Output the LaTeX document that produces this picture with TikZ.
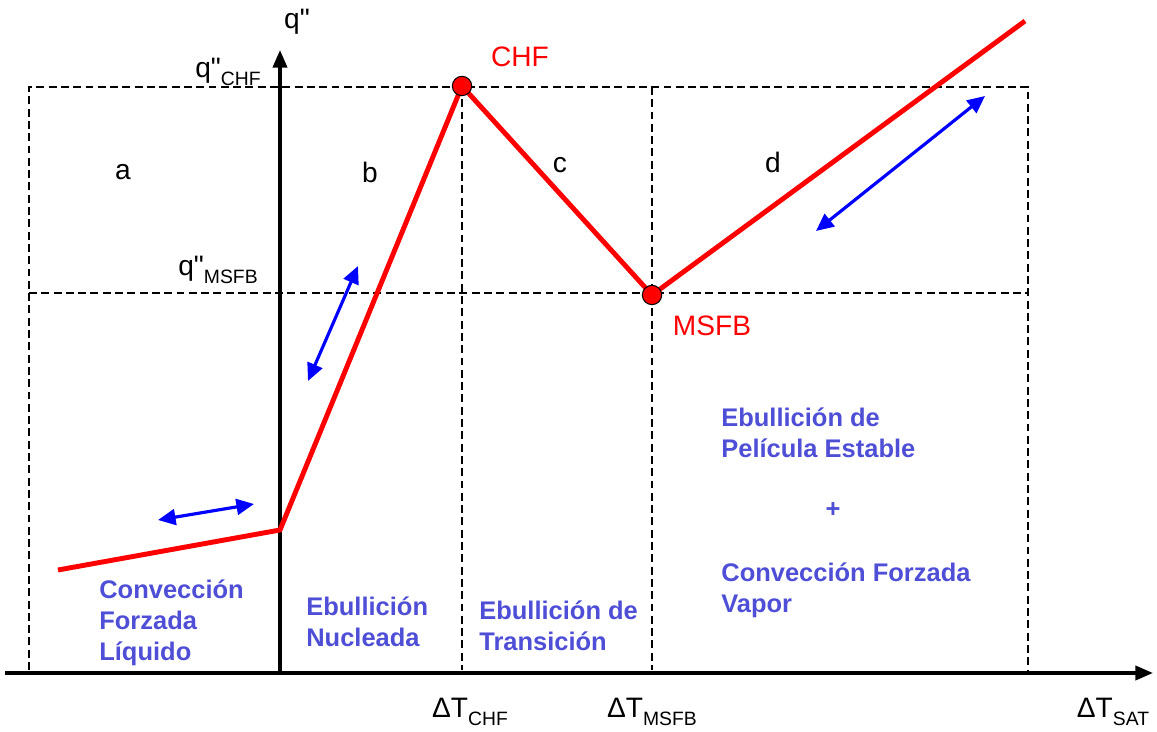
\documentclass[tikz,border=0pt]{standalone}
\usepackage{fontspec}
\setmainfont{Liberation Sans}[Ligatures=TeXOff]
\usetikzlibrary{arrows.meta}
\definecolor{regblue}{RGB}{78,78,214}
\newcommand{\dn}[1]{\raisebox{-0.55ex}{\fontsize{11}{11}\selectfont #1}}

\begin{document}
\begin{tikzpicture}[x=0.02cm,y=-0.02cm,
    grid/.style={dash pattern=on 4.5pt off 2.5pt, line width=1.4pt},
    axis/.style={line width=2pt, -{Triangle[length=10pt,width=8pt]}},
    curve/.style={red, line width=2.8pt},
    swing/.style={blue, line width=1.8pt, {Triangle[length=10pt,width=9pt]}-{Triangle[length=10pt,width=9pt]}},
    pt/.style={circle, draw=black, fill=red, inner sep=0pt, minimum size=11pt, line width=0.6pt},
    lbl/.style={font=\fontsize{16}{18}\selectfont},
    region/.style={text=regblue, font=\bfseries\fontsize{14.5}{17.6}\selectfont, align=left, anchor=west, inner sep=0pt}]
    \useasboundingbox (0,0) rectangle (1157,732);

    % grid
    \coordinate (tl) at (29,87);   \coordinate (tr) at (1028,87);
    \coordinate (ml) at (29,293);  \coordinate (mr) at (1028,293);
    \coordinate (bl) at (29,670);  \coordinate (br) at (1028,670);
    \coordinate (tc) at (462,87);  \coordinate (bc) at (462,670);
    \coordinate (tm) at (652,87);  \coordinate (bm) at (652,670);
    \draw [grid] (bl) -- (tl) -- (tr) -- (br);
    \draw [grid] (ml) -- (mr);
    \draw [grid] (tc) -- (bc);
    \draw [grid] (tm) -- (bm);

    % axes
    \coordinate (xs) at (5,673);
    \coordinate (xe) at (1153,673);
    \coordinate (O)  at (280,673);
    \coordinate (ye) at (280,50);
    \draw [axis] (xs) -- (xe);
    \draw [axis] (O) -- (ye);

    % boiling curve
    \coordinate (c0)  at (58,570);
    \coordinate (c1)  at (280,530);
    \coordinate (chf) at (462,86);
    \coordinate (msf) at (652,295);
    \coordinate (c4)  at (1025,21);
    \draw [curve] (c0) -- (c1) -- (chf) -- (msf) -- (c4);
    \node [pt] (CHFpt)  at (chf) {};
    \node [pt] (MSFBpt) at (msf) {};

    % swings
    \coordinate (s1a) at (158,520); \coordinate (s1b) at (254,504);
    \coordinate (s2a) at (308,381); \coordinate (s2b) at (358,266);
    \coordinate (s3a) at (816,231); \coordinate (s3b) at (985,96);
    \draw [swing] (s1a) -- (s1b);
    \draw [swing] (s2a) -- (s2b);
    \draw [swing] (s3a) -- (s3b);

    % labels
    \node [lbl] (qy)    at (297,22)  {q"};
    \node [lbl] (qCHF)  at (228,72)  {q"\dn{CHF}};
    \node [lbl] (qMSFB) at (218,270) {q"\dn{MSFB}};
    \node [lbl, red] (CHF)  at (520,57)  {CHF};
    \node [lbl, red] (MSFB) at (712,326) {MSFB};
    \node [lbl] (a) at (123,172) {a};
    \node [lbl] (b) at (370,172) {b};
    \node [lbl] (c) at (560,165) {c};
    \node [lbl] (d) at (773,162) {d};
    \node [lbl] (TCHF)  at (470,712)  {ΔT\dn{CHF}};
    \node [lbl] (TMSFB) at (652,712)  {ΔT\dn{MSFB}};
    \node [lbl] (TSAT)  at (1113,712) {ΔT\dn{SAT}};

    % regimes
    \node [region] (liq)   at (99,623)  {Convección\\Forzada\\Líquido};
    \node [region] (nuc)   at (306,622) {Ebullición\\Nucleada};
    \node [region] (trans) at (479,626) {Ebullición de\\Transición};
    \node [region] (film)  at (721,433) {Ebullición de\\Película Estable};
    \node [region, anchor=center] (plus) at (833,510) {+};
    \node [region] (vap)   at (721,590) {Convección Forzada\\Vapor};
\end{tikzpicture}
\end{document}
